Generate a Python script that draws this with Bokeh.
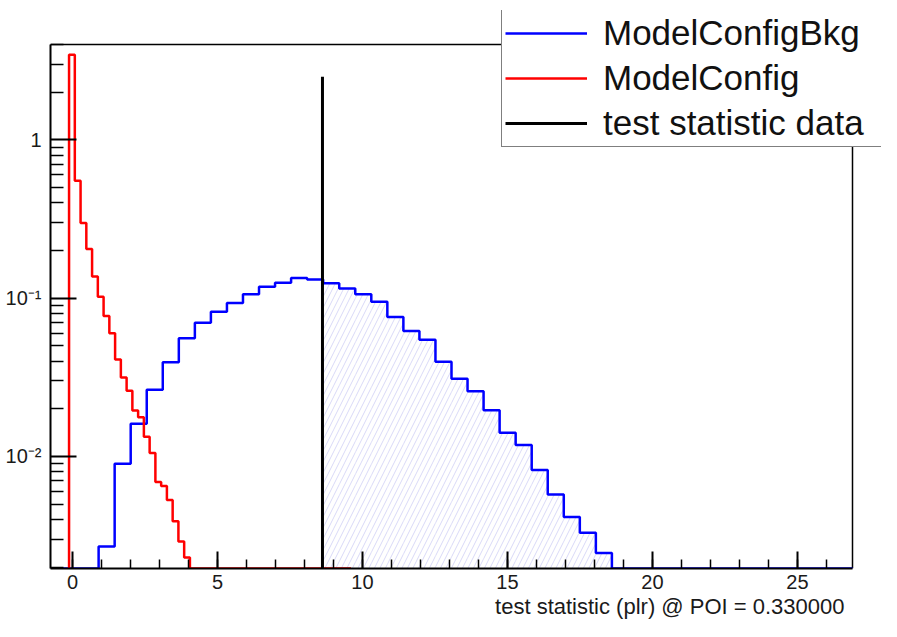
import numpy as np
from bokeh.plotting import figure
from bokeh.models import (Range1d, FixedTicker, SingleIntervalTicker, CustomJSTickFormatter,
                          Legend, LegendItem, Title)
from bokeh.embed import file_html
from bokeh.resources import INLINE

# ---------------- data ----------------
# Background-only model (ModelConfigBkg): 50 bins
BKG_X0 = -0.76
BKG_BIN_WIDTH = 0.5532
BKG_NBINS = 50
BKG_FIRST_BIN = 3
BKG_VALUES = [0.0027, 0.0090, 0.0161, 0.0264, 0.0393, 0.0557, 0.0700, 0.0820,
              0.0930, 0.1060, 0.1180, 0.1250, 0.1340, 0.1310, 0.1240, 0.1150,
              0.1060, 0.0950, 0.0760, 0.0620, 0.0545, 0.0396, 0.0310, 0.0258,
              0.0196, 0.0141, 0.0118, 0.0082, 0.00575, 0.00415, 0.0033, 0.00246]

# Signal+background model (ModelConfig)
SIG_X0 = -0.12
SIG_BIN_WIDTH = 0.1985
SIG_NBINS = 49
SIG_VALUES = [3.45, 0.552, 0.298, 0.204, 0.137, 0.102, 0.077, 0.060, 0.041,
              0.0315, 0.026, 0.0195, 0.0177, 0.0133, 0.0105, 0.0069, 0.0065,
              0.0053, 0.0039, 0.0029, 0.0023]

TEST_STAT = 8.62
TEST_STAT_TOP = 2.5

X_MIN, X_MAX = -0.76, 26.9
Y_MIN, Y_MAX = 0.00196, 4.0

Y_TICKS = [0.01, 0.1, 1.0]
Y_TICK_LABELS = ["10\u207b\u00b2", "10\u207b\u00b9", "1"]
Y_MINOR = [0.002, 0.003, 0.004, 0.005, 0.006, 0.007, 0.008, 0.009,
           0.02, 0.03, 0.04, 0.05, 0.06, 0.07, 0.08, 0.09,
           0.2, 0.3, 0.4, 0.5, 0.6, 0.7, 0.8, 0.9, 2.0, 3.0, 4.0]

LEGEND_LABELS = ["ModelConfigBkg", "ModelConfig", "test statistic data"]
X_TITLE = "test statistic (plr) @ POI = 0.330000"

FONT = "Liberation Sans"

# ---------------- layout (pixels) ----------------
BORDER_L, BORDER_T, BORDER_B = 50, 10, 53
FRAME_W, FRAME_H = 831, 558          # Bokeh frame (includes room for the legend)
BOX_W = 802                          # width of the drawn axis box
BOX_TOP_GAP = 34                     # legend sticks out this far above the axis box
LEG_PAD, LEG_ROW, LEG_SPACE = 3, 40, 5
LEG_H = 2 * LEG_PAD + 3 * LEG_ROW + 2 * LEG_SPACE
LEG_LEFT = 451                       # from the frame's left edge

x_end = X_MAX + (FRAME_W - BOX_W) * (X_MAX - X_MIN) / BOX_W
box_h = FRAME_H - BOX_TOP_GAP
y_end = Y_MAX * 10 ** (BOX_TOP_GAP * np.log10(Y_MAX / Y_MIN) / box_h)


def full_hist(x0, width, nbins, first, values):
    vals = np.zeros(nbins)
    vals[first:first + len(values)] = values
    edges = x0 + width * np.arange(nbins + 1)
    return edges, vals


def step_xy(edges, vals):
    shown = np.maximum(vals, Y_MIN)
    xs = np.concatenate([[edges[0]], edges])
    ys = np.concatenate([[Y_MIN], shown, [Y_MIN]])
    return xs, ys


bkg_edges, bkg_vals = full_hist(BKG_X0, BKG_BIN_WIDTH, BKG_NBINS, BKG_FIRST_BIN, BKG_VALUES)
sig_edges, sig_vals = full_hist(SIG_X0, SIG_BIN_WIDTH, SIG_NBINS, 0, SIG_VALUES)

p = figure(frame_width=FRAME_W, frame_height=FRAME_H,
           min_border_left=BORDER_L, min_border_right=0, min_border_top=BORDER_T,
           min_border_bottom=BORDER_B,
           x_range=Range1d(X_MIN, x_end), y_range=Range1d(Y_MIN, y_end),
           y_axis_type="log", output_backend="svg", toolbar_location=None)

p.background_fill_color = "white"
p.border_fill_color = "white"
p.outline_line_color = None
p.xgrid.visible = False
p.ygrid.visible = False

# hatched tail area beyond the observed test statistic
mask = (bkg_edges[1:] > TEST_STAT) & (bkg_vals > 0)
h_left = np.maximum(bkg_edges[:-1][mask], TEST_STAT)
h_right = bkg_edges[1:][mask]
h_top = bkg_vals[mask]
p.quad(left=h_left, right=h_right, top=h_top, bottom=Y_MIN,
       fill_color="white", fill_alpha=0, line_color=None,
       hatch_pattern="/", hatch_color="#d9d9f7", hatch_scale=11, hatch_weight=1)

# top and right sides of the axis box
p.segment(x0=[X_MIN, X_MAX], y0=[Y_MAX, Y_MIN], x1=[X_MAX, X_MAX], y1=[Y_MAX, Y_MAX],
          line_color="black", line_width=1.5)

bx, by = step_xy(bkg_edges, bkg_vals)
sx, sy = step_xy(sig_edges, sig_vals)
r_bkg = p.step(bx, by, mode="after", line_color="#0000ff", line_width=2.5)
r_sig = p.step(sx, sy, mode="after", line_color="#ff0000", line_width=2.5)
r_data = p.segment(x0=[TEST_STAT], y0=[Y_MIN], x1=[TEST_STAT], y1=[TEST_STAT_TOP],
                   line_color="black", line_width=3)

# axes
xax = p.xaxis[0]
xax.ticker = SingleIntervalTicker(interval=5, num_minor_ticks=5)
xax.bounds = (X_MIN, X_MAX)
yax = p.yaxis[0]
yax.ticker = FixedTicker(ticks=Y_TICKS, minor_ticks=Y_MINOR)
yax.bounds = (Y_MIN, Y_MAX)
yax.formatter = CustomJSTickFormatter(args=dict(yt=Y_TICKS, yl=Y_TICK_LABELS), code="""
    const i = yt.findIndex(t => Math.abs(t - tick) <= 1e-6 * t);
    return i >= 0 ? yl[i] : "";
""")
for ax, maj, mino in ((xax, 17, 9), (yax, 26, 13)):
    ax.axis_line_color = "black"
    ax.axis_line_width = 2
    ax.major_tick_in = maj
    ax.major_tick_out = 0
    ax.minor_tick_in = mino
    ax.minor_tick_out = 0
    ax.major_tick_line_width = 2
    ax.minor_tick_line_width = 1.5
    ax.major_tick_line_color = "black"
    ax.minor_tick_line_color = "black"
    ax.major_label_text_font = FONT
    ax.major_label_text_font_size = "20px"
    ax.major_label_text_color = "#1a1a1a"
xax.major_label_standoff = 6
yax.major_label_standoff = 9

p.add_layout(Title(text=X_TITLE, align="right", text_font=FONT, text_font_size="22px",
                   text_font_style="normal", text_color="#1a1a1a", standoff=0,
                   offset=FRAME_W - BOX_W + 8),
             "below")

legend = Legend(items=[LegendItem(label=LEGEND_LABELS[0], renderers=[r_bkg]),
                       LegendItem(label=LEGEND_LABELS[1], renderers=[r_sig]),
                       LegendItem(label=LEGEND_LABELS[2], renderers=[r_data])],
                location=(LEG_LEFT, FRAME_H - LEG_H - 1), orientation="vertical",
                label_text_font=FONT, label_text_font_size="35px", label_text_color="#111111",
                glyph_width=82, glyph_height=LEG_ROW, label_height=LEG_ROW, label_width=300,
                label_standoff=16, spacing=LEG_SPACE, padding=LEG_PAD, margin=0,
                border_line_color="black", border_line_width=1.5,
                background_fill_color="white", background_fill_alpha=1.0)
p.add_layout(legend, "center")

open("out.html", "w").write(file_html(p, INLINE))
